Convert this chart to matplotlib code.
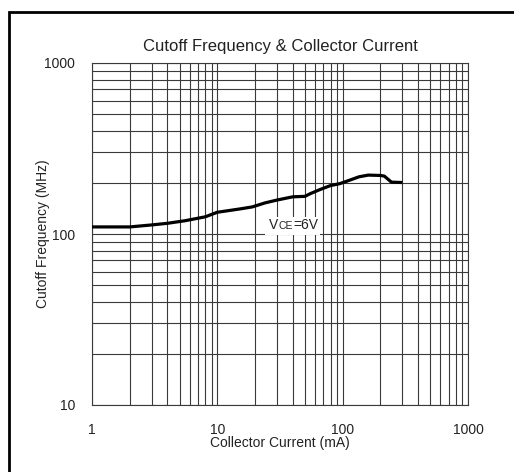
import matplotlib
matplotlib.use("Agg")
import matplotlib.pyplot as plt
from matplotlib.patches import Rectangle

plt.rcParams['font.family'] = ['Liberation Sans', 'DejaVu Sans']

current_ma = [1, 2, 3, 4, 5.5, 8, 10, 15, 19, 24, 30, 40, 50, 55, 66, 80, 95, 115, 135, 160, 200, 215, 245, 300]
freq_mhz = [110, 110, 113, 115.5, 119.5, 126, 134, 140, 144, 152, 158, 165, 166, 172, 182, 192, 197, 207, 216, 221, 220, 218, 201, 200]
x_ticks = [1, 10, 100, 1000]
x_ticklabels = ["1", "10", "100", "1000"]
y_ticks = [10, 100, 1000]
y_ticklabels = ["10", "100", "1000"]

W, H = 514, 472
fig = plt.figure(figsize=(W / 100, H / 100), dpi=100)
fig.patch.set_facecolor('white')

# figure border (left and top visible)
fig.add_artist(Rectangle((9 / W, -0.1), 1.2, (1 - 12 / H) + 0.1, transform=fig.transFigure,
                         fill=False, edgecolor='black', linewidth=2))

ax = fig.add_axes([92 / W, 1 - 405 / H, (468 - 92) / W, (405 - 63) / H])
ax.set_xscale('log')
ax.set_yscale('log')
ax.set_xlim(1, 1000)
ax.set_ylim(10, 1000)

ax.grid(True, which='both', color='#3a3a3a', linewidth=0.8)
ax.set_axisbelow(True)
for s in ax.spines.values():
    s.set_color('#3a3a3a')
    s.set_linewidth(0.8)

ax.plot(current_ma, freq_mhz, color='black', linewidth=2.3, solid_capstyle='butt', zorder=3)

ax.set_xticks(x_ticks)
ax.set_xticklabels(x_ticklabels)
ax.set_yticks(y_ticks)
ax.set_yticklabels(y_ticklabels)
ax.tick_params(which='both', length=0)
ax.tick_params(axis='x', pad=13, labelsize=10, colors='#222222')
ax.tick_params(axis='y', pad=12, labelsize=10, colors='#222222')

ax.set_xlabel('Collector Current (mA)', fontsize=10, color='#222222')
ax.xaxis.set_label_coords((280 - 92) / 376, -(436 - 405) / 342)
ax.set_ylabel('Cutoff Frequency (MHz)', fontsize=10, color='#222222')
ax.yaxis.set_label_coords((50 - 92) / 376, 0.5)
ax.set_title('Cutoff Frequency & Collector Current', fontsize=12, pad=9, color='#222222')

# V_CE = 6V annotation with white background
ax.add_patch(Rectangle((265 / W, 1 - 235 / H), 55 / W, 18 / H, transform=fig.transFigure,
                       facecolor='white', edgecolor='none', zorder=4))
fig.canvas.draw()
r = fig.canvas.get_renderer()
ybase = H - 229  # baseline pixel (from bottom)
xpos = 269
for s, fs in [('V', 10), ('CE', 7.5), ('=6V', 10)]:
    t = fig.text(xpos / W, ybase / H, s, fontsize=fs, ha='left', va='baseline',
                 color='#222222', zorder=5)
    bb = t.get_window_extent(renderer=r)
    xpos += bb.width + 0.3

fig.savefig('out.png', dpi=100, facecolor='white')
